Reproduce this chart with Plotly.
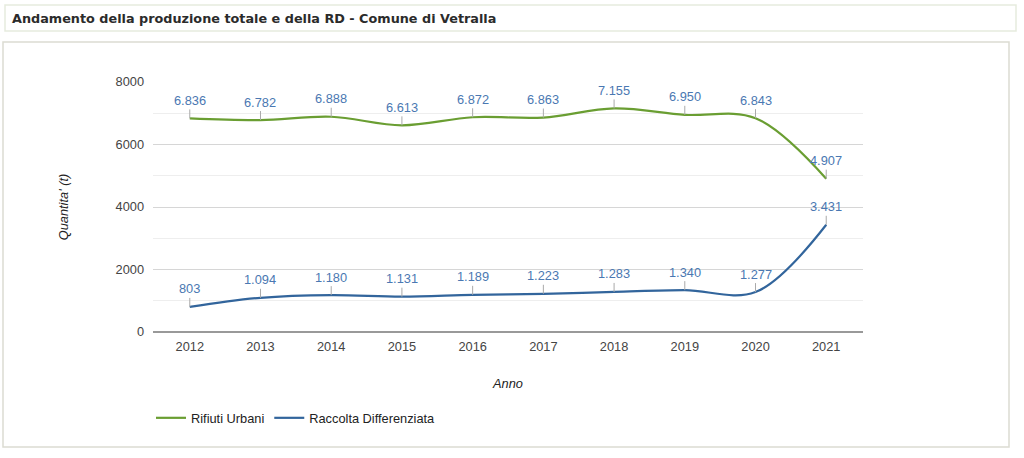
import plotly.graph_objects as go

years = [2012, 2013, 2014, 2015, 2016, 2017, 2018, 2019, 2020, 2021]
rifiuti_urbani = [6836, 6782, 6888, 6613, 6872, 6863, 7155, 6950, 6843, 4907]
raccolta_diff = [803, 1094, 1180, 1131, 1189, 1223, 1283, 1340, 1277, 3431]
series_names = ["Rifiuti Urbani", "Raccolta Differenziata"]
y_ticks = [0, 2000, 4000, 6000, 8000]

GREEN = "#6a9e32"
BLUE = "#32659c"
LABEL = "#4a78b2"
FONT = "Liberation Sans, Arial, sans-serif"

W, H = 1024, 458
L, R, T, B = 153, 863, 82, 332


def px(x):
    return (x - L) / (R - L)


def py(y):
    return (B - y) / (B - T)


def fmt(v):
    return f"{v:,}".replace(",", ".")


fig = go.Figure()
for name, vals, col in [(series_names[0], rifiuti_urbani, GREEN),
                        (series_names[1], raccolta_diff, BLUE)]:
    fig.add_trace(go.Scatter(
        x=years, y=vals, name=name, mode="lines",
        line=dict(color=col, width=2.2, shape="spline", smoothing=1.0),
        hoverinfo="x+y",
    ))

annotations = []
for vals in (rifiuti_urbani, raccolta_diff):
    for x, v in zip(years, vals):
        annotations.append(dict(
            x=x, y=v, xref="x", yref="y", text=fmt(v),
            showarrow=True, arrowhead=0, arrowwidth=1, arrowcolor="#aaaaaa",
            ax=0, ay=-18, font=dict(family=FONT, size=12.8, color=LABEL),
        ))

# Title text
annotations.append(dict(
    x=px(10), y=py(18), xref="paper", yref="paper", xanchor="left", yanchor="middle",
    text="<b>Andamento della produzione totale e della RD - Comune di Vetralla</b>",
    showarrow=False, font=dict(family="DejaVu Sans, Verdana, sans-serif", size=12.8, color="#2b2b2b"),
))

shapes = [
    dict(type="rect", xref="paper", yref="paper", x0=px(5), x1=px(1016), y0=py(5), y1=py(31),
         line=dict(color="#e6ebde", width=1.5), fillcolor="rgba(0,0,0,0)", layer="below"),
    dict(type="rect", xref="paper", yref="paper", x0=px(3), x1=px(1009), y0=py(42), y1=py(447),
         line=dict(color="#dcdcd2", width=1.5), fillcolor="rgba(0,0,0,0)", layer="below"),
]

fig.update_layout(
    width=W, height=H,
    margin=dict(l=L, r=W - R, t=T, b=H - B),
    paper_bgcolor="white", plot_bgcolor="white",
    font=dict(family=FONT, size=12, color="#444444"),
    showlegend=True,
    legend=dict(orientation="h", x=px(151), y=py(418), xanchor="left", yanchor="middle",
                font=dict(family=FONT, size=12.8, color="#222222"), itemwidth=30,
                bgcolor="rgba(0,0,0,0)"),
    xaxis=dict(range=[2011.48, 2021.52], tickmode="array", tickvals=years,
               ticktext=[str(y) for y in years], showgrid=False, zeroline=False,
               showline=False, ticks="", ticklabelstandoff=5,
               tickfont=dict(size=12.8, color="#444444"),
               title=dict(text="<i>Anno</i>", font=dict(size=12.8, color="#222222"), standoff=26),
               fixedrange=True),
    yaxis=dict(range=[0, 8000], tickmode="array", tickvals=y_ticks,
               ticktext=[str(v) for v in y_ticks], showgrid=True, gridcolor="#d6d6d6",
               gridwidth=1, zeroline=True, zerolinecolor="#999999", zerolinewidth=1.5,
               showline=False, ticks="", ticklabelstandoff=8,
               tickfont=dict(size=12.8, color="#444444"),
               minor=dict(dtick=1000, showgrid=True, gridcolor="#eeeeee", gridwidth=1),
               title=dict(text="<i>Quantita' (t)</i>", font=dict(size=12.8, color="#222222"), standoff=44),
               fixedrange=True),
    annotations=annotations,
    shapes=shapes,
)

fig.write_html("out.html")
